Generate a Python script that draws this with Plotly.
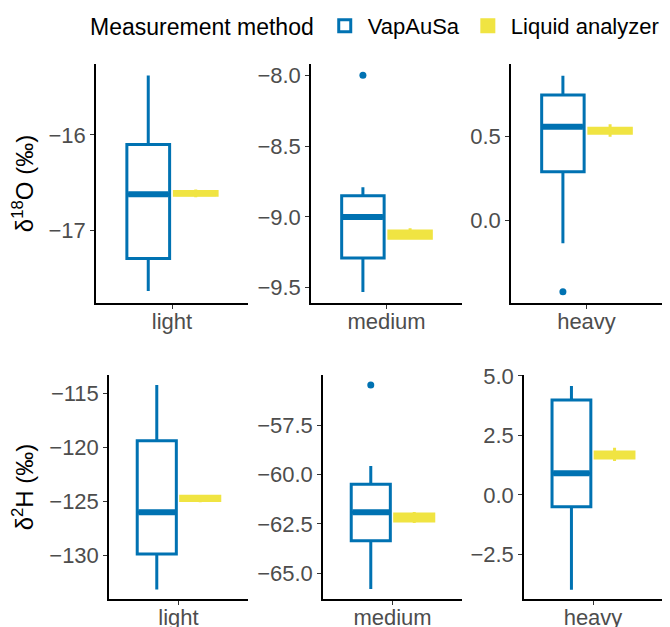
import plotly.graph_objects as go

# ---- data ----
categories = ["light", "medium", "heavy"]
methods = ["VapAuSa", "Liquid analyzer"]
isotopes = ["δ<sup>18</sup>O (‰)", "δ<sup>2</sup>H (‰)"]

# VapAuSa box statistics per isotope row, per category
vap_q1 = [[-17.29, -9.29, 0.29], [-129.9, -63.36, -0.50]]
vap_med = [[-16.62, -9.00, 0.56], [-126.04, -61.91, 0.91]]
vap_q3 = [[-16.10, -8.85, 0.75], [-119.4, -60.50, 3.99]]
vap_lo = [[-17.63, -9.53, -0.14], [-133.2, -65.80, -3.99]]
vap_hi = [[-15.38, -8.79, 0.866], [-114.23, -59.57, 4.58]]
vap_out = [[[], [-8.00], [-0.43]], [[], [-55.48], []]]

# Liquid analyzer box statistics
liq_q1 = [[-16.63, -9.15, 0.52], [-124.95, -62.35, 1.55]]
liq_med = [[-16.61, -9.12, 0.534], [-124.74, -62.17, 1.68]]
liq_q3 = [[-16.59, -9.10, 0.55], [-124.55, -62.00, 1.80]]
liq_lo = [[-16.65, -9.16, 0.50], [-125.1, -62.45, 1.42]]
liq_hi = [[-16.57, -9.08, 0.575], [-124.4, -61.90, 1.98]]

# axis ranges and ticks
y_ranges = [[[-17.755, -15.26], [-9.608, -7.92], [-0.498, 0.936]],
            [[-134.08, -113.3], [-66.3, -54.97], [-4.38, 5.04]]]
y_ticks = [[[-17, -16], [-9.5, -9.0, -8.5, -8.0], [0.0, 0.5]],
           [[-130, -125, -120, -115], [-65.0, -62.5, -60.0, -57.5], [-2.5, 0.0, 2.5, 5.0]]]
y_fmt = [["d", ".1f", ".1f"], [".0f", ".1f", ".1f"]]

# ---- styling / layout ----
BLUE = "#0072B2"
YELLOW = "#F0E442"
OFF = 8                      # page body margin of the browser
W, H = 670 - OFF, 627 - OFF  # figure size so that it fills the window
# panel edges in window pixels
x_dom = [[(96, 248), (311, 462), (511, 662)],
         [(109, 248), (323, 462), (524, 662)]]
y_dom = [(64, 303), (375, 599)]
dodge = 0.1875
bw = 0.3375
FAM = "Liberation Sans, Arial, sans-serif"
TICK_FONT = dict(family=FAM, size=22, color="#4D4D4D")

fig = go.Figure()
layout = {}
for r in range(2):
    for c in range(3):
        k = r * 3 + c + 1
        xa = "x" if k == 1 else f"x{k}"
        ya = "y" if k == 1 else f"y{k}"
        xpos = [1 - dodge, 1 + dodge]
        stats = [
            (vap_q1, vap_med, vap_q3, vap_lo, vap_hi, BLUE, "white"),
            (liq_q1, liq_med, liq_q3, liq_lo, liq_hi, YELLOW, YELLOW),
        ]
        for m, (q1, md, q3, lo, hi, col, fill) in enumerate(stats):
            fig.add_trace(go.Box(
                x=[xpos[m]], q1=[q1[r][c]], median=[md[r][c]], q3=[q3[r][c]],
                lowerfence=[lo[r][c]], upperfence=[hi[r][c]],
                width=bw, whiskerwidth=0, boxpoints=False,
                line=dict(color=col, width=3), fillcolor=fill,
                name=methods[m], legendgroup=methods[m],
                showlegend=(k == 1), xaxis=xa, yaxis=ya, hoverinfo="skip"))
            # thicker median line
            fig.add_trace(go.Scatter(
                x=[xpos[m] - bw / 2 + 0.01, xpos[m] + bw / 2 - 0.01],
                y=[md[r][c], md[r][c]], mode="lines",
                line=dict(color=col, width=6), showlegend=False,
                legendgroup=methods[m], xaxis=xa, yaxis=ya, hoverinfo="skip"))
        if vap_out[r][c]:
            fig.add_trace(go.Scatter(
                x=[xpos[0]] * len(vap_out[r][c]), y=vap_out[r][c], mode="markers",
                marker=dict(color=BLUE, size=7), showlegend=False,
                xaxis=xa, yaxis=ya, hoverinfo="skip"))
        x0, x1 = (v - OFF for v in x_dom[r][c])
        y0, y1 = (v - OFF for v in y_dom[r])
        layout["xaxis" if k == 1 else f"xaxis{k}"] = dict(
            domain=[x0 / W, x1 / W], anchor=ya, range=[0.4, 1.6],
            tickvals=[1], ticktext=[categories[c]], showgrid=False, zeroline=False,
            showline=True, linecolor="black", linewidth=1.5,
            ticks="outside", ticklen=4, tickcolor="#333333", tickfont=TICK_FONT,
            ticklabelstandoff=-6,
            fixedrange=True, automargin=False)
        yd = dict(
            domain=[1 - y1 / H, 1 - y0 / H], anchor=xa, range=y_ranges[r][c],
            tickvals=y_ticks[r][c], tickformat=y_fmt[r][c], showgrid=False,
            zeroline=False, showline=True, linecolor="black", linewidth=1.5,
            ticks="outside", ticklen=4, tickcolor="#333333", tickfont=TICK_FONT,
            fixedrange=True, automargin=False)
        if c == 0:
            yd["title"] = dict(text=isotopes[r], standoff=10,
                               font=dict(family=FAM, size=24, color="black"))
        layout["yaxis" if k == 1 else f"yaxis{k}"] = yd

fig.update_layout(
    width=W, height=H, margin=dict(l=0, r=0, t=0, b=0, autoexpand=False),
    paper_bgcolor="white", plot_bgcolor="white", boxmode="overlay",
    font=dict(family=FAM, size=22, color="black"),
    legend=dict(orientation="h", x=80 / W, y=1 + 3 / H, xanchor="left", yanchor="top",
                title=dict(text="Measurement method", font=dict(size=23)),
                font=dict(size=22), bgcolor="rgba(0,0,0,0)",
                itemwidth=36, tracegroupgap=0),
    **layout)

fig.write_html("out.html")
